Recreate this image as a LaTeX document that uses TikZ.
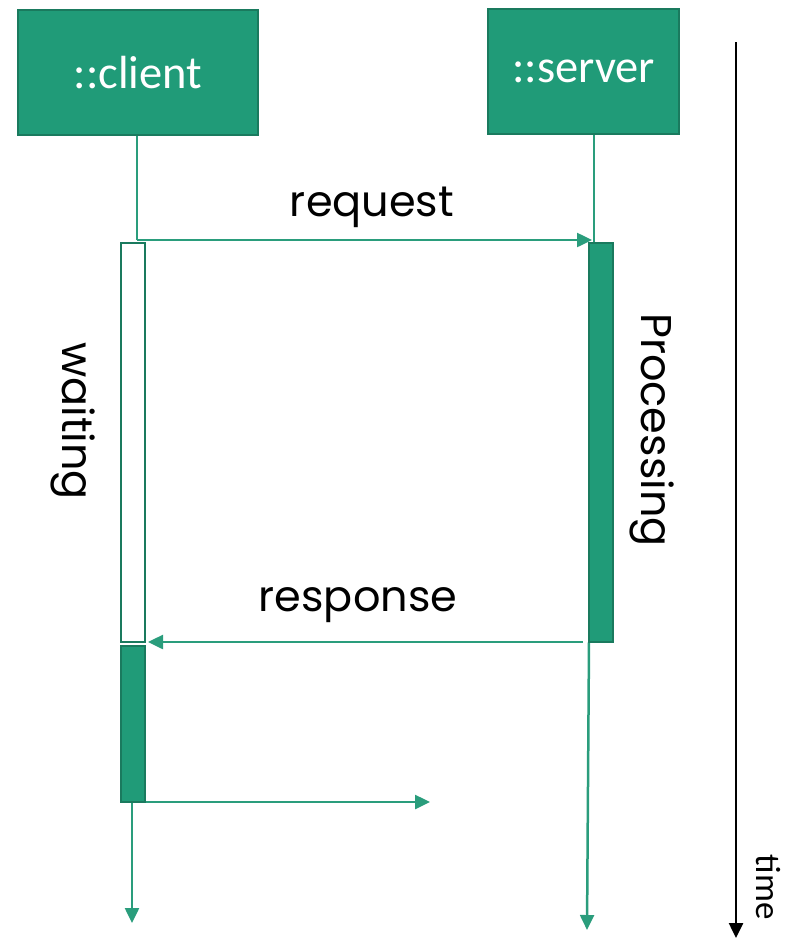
\documentclass[tikz,border=0pt]{standalone}
\usepackage{fontspec}
\setmainfont{Carlito}
\newfontfamily\handfont{Poppins}
\usetikzlibrary{arrows.meta}
\definecolor{boxfill}{HTML}{209B78}
\definecolor{boxline}{HTML}{1A7A5E}
\definecolor{msgline}{HTML}{2A9D7C}
\tikzset{
  objbox/.style={draw=boxline, line width=2pt, fill=boxfill, text=white, inner sep=0pt, font=\fontsize{46.5}{48}\selectfont},
  actbox/.style={draw=boxline, line width=2pt, fill=boxfill, inner sep=0pt, minimum width=24pt, outer sep=0pt},
  waitbox/.style={draw=boxline, line width=2pt, fill=white, inner sep=0pt, minimum width=24pt, outer sep=0pt},
  msg/.style={draw=msgline, line width=2.5pt, -{Triangle[length=15pt,width=14pt]}},
  life/.style={draw=msgline, line width=2.5pt},
  lbl/.style={font=\handfont\fontsize{43}{45}\selectfont, text=black, inner sep=0pt},
}
\begin{document}
\begin{tikzpicture}[x=1pt,y=-1pt]
\useasboundingbox (0,0) rectangle (792,940);
% objects
\node[objbox, minimum width=240pt, minimum height=125pt] (client) at (138,72.5) {::client};
\node[objbox, minimum width=191pt, minimum height=125pt] (server) at (583.5,71.5) {::server};
% activation boxes (positions only)
\path node[waitbox, minimum height=399pt, draw=none, fill=none] (wait) at (133,442.5) {}
      node[actbox, minimum height=399pt, draw=none, fill=none] (proc) at (601,442.5) {}
      node[actbox, minimum height=156pt, draw=none, fill=none] (cact) at (133,724) {};
\coordinate (rqy) at (0,240);
\coordinate (sx) at (594,0);
\coordinate (outx) at (430,0);
\coordinate (cend) at (132,923);
\coordinate (send) at (587,930);
\coordinate (ttop) at (736,42);
\coordinate (tbot) at (736,938);
% lifelines and messages
\draw[life] ([xshift=-1pt]client.south) -- ([xshift=-1pt]client.south |- rqy) coordinate (rqs);
\draw[msg] (rqs) -- (rqs -| 592,0);
\draw[life] (server.south -| sx) -- (proc.north -| sx);
\draw[msg] ([xshift=-6pt]proc.south west) -- ([xshift=3pt]wait.south east);
\draw[msg] (proc.south west) -- (send);
\draw[msg] ([xshift=-1pt]cact.south) -- (cend);
\draw[msg] ([xshift=-1pt]cact.south) -- (cact.south -| outx);
\draw[line width=2.5pt, -{Triangle[length=15pt,width=14pt]}] (ttop) -- (tbot);
% boxes on top
\node[waitbox, minimum height=399pt] at (wait) {};
\node[actbox, minimum height=399pt] at (proc) {};
\node[actbox, minimum height=156pt] at (cact) {};
% labels
\node[lbl] (lreq) at (372,207) {request};
\node[lbl] (lres) at (358,605) {response};
\node[lbl, rotate=-90] (lwait) at (73,421) {waiting};
\node[lbl, rotate=-90] (lproc) at (652,430) {Processing};
\node[font=\fontsize{35}{37}\selectfont, rotate=-90, inner sep=0pt] (ltime) at (768,887) {time};
\end{tikzpicture}
\end{document}
